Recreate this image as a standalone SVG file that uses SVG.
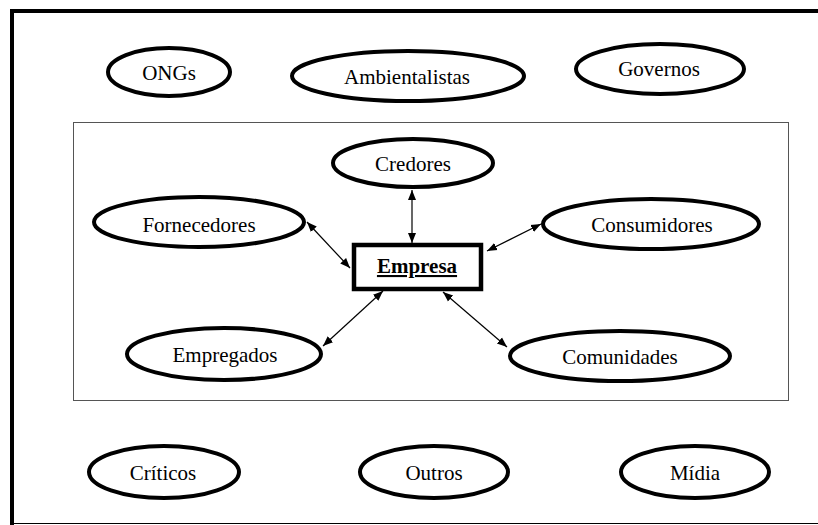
<svg xmlns="http://www.w3.org/2000/svg" width="818" height="525" viewBox="0 0 818 525">
<style>
.n{fill:#fff;stroke:#000;stroke-width:4}
.t{font-family:"Liberation Serif","Times New Roman",serif;font-size:21px;text-anchor:middle;fill:#000}
.c{stroke:#000;stroke-width:1.2;fill:none;marker-start:url(#a);marker-end:url(#a)}
</style>
<defs>
<marker id="a" viewBox="0 0 10 10" refX="10" refY="5" markerWidth="10" markerHeight="10" markerUnits="userSpaceOnUse" orient="auto-start-reverse">
<path d="M0,1 L10,5 L0,9 Z" fill="#000"/>
</marker>
</defs>
<rect width="818" height="525" fill="#fff"/>
<g id="frame">
<path d="M12,525 V11 H818" fill="none" stroke="#000" stroke-width="4"/>
<line x1="12" y1="523.5" x2="818" y2="523.5" stroke="#000" stroke-width="1"/>
<rect x="73.5" y="122.5" width="715" height="278" fill="none" stroke="#555" stroke-width="1"/>
</g>
<g id="connectors">
<line class="c" x1="412" y1="190" x2="412" y2="243"/>
<line class="c" x1="307" y1="222" x2="350" y2="268"/>
<line class="c" x1="541" y1="224" x2="487" y2="251"/>
<line class="c" x1="323" y1="346" x2="383" y2="291"/>
<line class="c" x1="443" y1="292" x2="507" y2="347"/>
</g>
<g id="ongs"><ellipse class="n" cx="169" cy="72" rx="61" ry="24"/><text class="t" x="169" y="80">ONGs</text></g>
<g id="ambientalistas"><ellipse class="n" cx="408" cy="76" rx="116" ry="25"/><text class="t" x="407" y="84">Ambientalistas</text></g>
<g id="governos"><ellipse class="n" cx="660" cy="69" rx="84" ry="25"/><text class="t" x="659" y="76">Governos</text></g>
<g id="credores"><ellipse class="n" cx="413" cy="163" rx="80" ry="24"/><text class="t" x="413" y="171">Credores</text></g>
<g id="fornecedores"><ellipse class="n" cx="199" cy="222" rx="105" ry="25"/><text class="t" x="199" y="232">Fornecedores</text></g>
<g id="consumidores"><ellipse class="n" cx="651" cy="224" rx="108" ry="25"/><text class="t" x="652" y="232">Consumidores</text></g>
<g id="empresa"><rect x="354" y="245" width="127" height="44" fill="#fff" stroke="#000" stroke-width="4.5"/><text class="t" x="417" y="273" font-weight="bold" text-decoration="underline">Empresa</text></g>
<g id="empregados"><ellipse class="n" cx="224" cy="354" rx="97" ry="26"/><text class="t" x="225" y="362">Empregados</text></g>
<g id="comunidades"><ellipse class="n" cx="620" cy="356" rx="110" ry="25"/><text class="t" x="620" y="364">Comunidades</text></g>
<g id="criticos"><ellipse class="n" cx="164" cy="472" rx="75" ry="26"/><text class="t" x="163" y="480">Críticos</text></g>
<g id="outros"><ellipse class="n" cx="434" cy="472" rx="74" ry="26"/><text class="t" x="434" y="480">Outros</text></g>
<g id="midia"><ellipse class="n" cx="695" cy="472" rx="74" ry="26"/><text class="t" x="695" y="480">Mídia</text></g>
</svg>
